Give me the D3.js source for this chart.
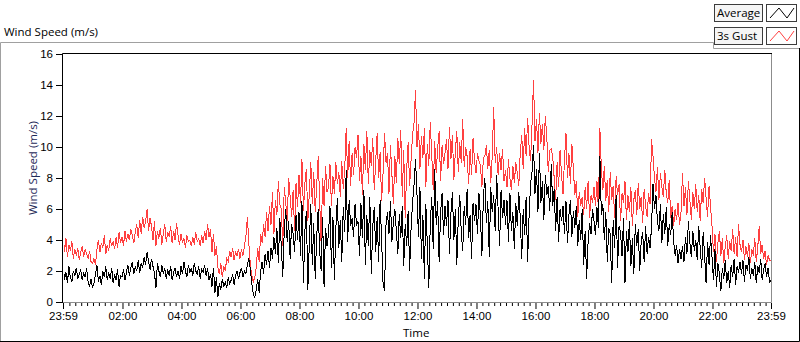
<!DOCTYPE html>
<html>
<head>
<meta charset="utf-8">
<script src="https://cdn.jsdelivr.net/npm/d3@7"></script>
<style>
  body { margin: 0; background: #fff; }
  svg { display: block; font-family: "Open Sans", sans-serif; }
</style>
</head>
<body>
<svg id="chart" width="800" height="342"></svg>
<script>
// 3-minute samples, 23:59 -> 23:59 next day (one row per hour)
const stepMinutes = 3;
const averageMs = [
  2.7,1.4,1.9,1.2,2.3,1.6,1.3,2.0,1.7,2.2,1.5,1.8,2.1,1.4,1.9,1.6,2.2,1.3,1.0,1.5,
  0.9,1.2,1.8,2.4,1.3,1.7,1.1,2.0,1.6,2.3,1.4,1.9,1.5,2.2,1.2,1.8,1.4,2.1,1.0,1.7,
  1.6,2.1,1.4,1.9,2.4,1.7,2.2,2.6,1.8,2.3,2.0,2.7,1.9,2.5,2.2,2.9,2.4,3.2,2.6,2.1,
  2.8,2.3,1.9,0.9,2.5,2.0,1.6,2.4,1.8,2.2,1.5,2.1,1.7,2.3,1.4,1.9,2.2,1.6,2.0,1.5,
  2.3,1.8,2.6,2.0,1.6,2.4,1.9,2.2,1.7,2.5,2.0,1.8,2.3,1.5,2.1,1.9,2.4,1.7,2.2,1.4,
  1.8,1.0,2.2,0.6,1.6,0.3,1.2,0.8,1.5,1.0,1.3,0.9,1.6,1.2,1.4,1.8,1.1,1.7,2.0,1.5,
  1.9,2.2,1.6,2.0,1.8,2.4,2.8,2.1,1.2,0.5,0.3,0.8,1.5,0.6,2.0,2.6,1.8,3.1,2.4,3.3,
  2.2,3.5,2.8,4.2,3.1,4.8,2.5,5.4,3.6,1.6,4.6,6.0,3.9,5.2,2.8,5.0,4.4,3.2,5.6,4.0,
  5.8,3.0,6.5,1.2,4.6,5.9,0.8,3.8,6.3,2.4,5.1,1.5,4.2,6.0,3.3,2.0,5.5,1.0,4.8,3.6,
  4.4,6.2,2.2,5.5,1.4,4.8,6.7,3.5,5.3,2.6,6.1,4.5,8.5,3.9,6.6,4.9,5.4,4.2,6.3,5.0,
  5.2,3.0,6.4,4.1,7.2,2.4,5.6,3.6,6.8,1.8,4.9,6.1,3.2,5.5,2.6,6.6,4.0,1.2,0.7,5.0,
  5.8,4.4,6.5,3.9,5.2,6.0,4.6,3.1,5.7,4.1,6.2,2.3,5.0,3.6,5.9,2.0,4.8,6.4,7.6,9.2,
  6.9,4.2,7.4,2.8,5.6,1.5,6.3,3.7,0.9,5.1,6.8,3.4,8.6,5.0,6.5,2.6,5.8,7.0,4.3,6.2,
  4.9,6.6,3.1,5.7,7.1,4.0,6.0,2.4,5.4,6.9,4.5,3.3,6.2,5.0,7.3,4.1,5.6,2.8,6.4,5.2,
  6.3,4.4,7.0,5.5,3.0,6.8,8.0,5.1,6.5,2.9,7.4,5.8,6.9,4.6,8.2,6.0,3.6,7.2,5.4,6.6,
  5.0,6.6,3.9,7.0,4.6,5.8,3.4,6.4,4.9,7.1,5.5,2.8,6.0,4.3,6.8,2.6,5.6,7.6,8.4,10.1,
  7.0,8.6,5.8,9.6,6.4,7.8,5.3,8.2,6.9,7.5,5.9,8.9,6.2,7.3,4.6,6.8,3.9,6.0,5.2,6.2,
  4.4,6.5,3.8,5.6,6.6,4.2,5.9,4.8,6.2,3.6,5.3,4.0,6.0,2.4,4.6,1.5,3.9,5.1,4.4,6.0,
  5.2,4.3,6.1,4.8,9.4,5.6,6.3,4.0,5.8,2.6,4.8,4.4,1.2,5.3,3.5,6.9,2.2,4.9,4.5,3.0,
  5.4,1.2,4.6,3.2,5.2,2.3,4.1,1.8,5.0,3.6,4.7,2.0,3.9,4.5,2.6,4.9,3.1,4.2,3.5,4.8,
  7.6,6.0,6.9,5.2,4.6,6.3,3.8,5.7,4.4,6.1,3.6,5.0,4.3,5.8,3.9,3.0,3.7,2.5,3.4,2.8,
  3.6,2.6,4.2,3.1,5.2,3.8,2.9,4.6,3.3,4.0,2.7,4.9,3.5,2.2,4.5,3.0,1.2,3.9,2.4,4.3,
  2.9,1.4,3.4,1.0,2.5,1.8,0.7,2.2,1.5,2.7,1.2,2.0,0.9,2.4,1.6,2.8,1.1,2.3,1.9,2.6,
  1.8,2.7,1.3,2.4,2.0,2.9,1.5,2.2,1.7,2.6,1.2,2.3,1.9,2.8,1.4,2.1,2.5,1.6,2.2,1.3,
  1.4
];
const gustMs = [
  4.8,3.2,4.1,2.9,3.7,3.3,3.9,2.8,3.4,3.0,3.5,2.7,3.2,3.6,2.9,3.4,3.1,2.8,3.3,2.6,
  2.5,2.8,2.4,3.4,4.0,3.2,3.8,3.5,4.3,3.1,3.7,3.3,4.1,3.6,3.9,3.4,4.2,3.5,4.5,3.8,
  4.2,3.6,4.6,3.9,4.4,4.0,4.7,4.3,3.8,4.5,5.0,4.1,5.3,4.4,5.5,4.8,5.2,6.0,4.6,5.4,
  4.9,4.0,5.2,3.6,4.6,4.1,4.8,3.7,4.4,5.0,3.9,4.5,4.2,4.9,3.8,4.6,4.0,5.1,4.3,3.7,
  4.4,3.8,4.1,3.5,4.3,3.9,4.0,3.6,4.2,3.7,4.5,3.9,4.1,3.6,4.3,3.8,4.6,4.0,5.0,4.2,
  4.7,3.2,4.4,3.0,3.6,2.2,1.8,2.5,1.6,2.3,2.0,2.8,2.6,3.3,2.9,3.5,2.7,3.2,3.0,3.4,
  2.8,3.4,3.0,3.6,4.2,5.5,3.8,2.4,1.7,1.3,1.6,2.2,3.5,2.6,4.4,3.8,5.0,4.2,5.8,4.6,
  6.2,5.0,7.1,4.4,6.6,5.6,7.8,6.3,6.0,3.6,7.4,6.4,5.2,8.0,6.8,5.5,7.2,4.6,7.7,6.1,
  8.2,6.4,9.2,5.9,7.7,8.6,5.2,7.0,9.0,6.3,8.4,5.8,7.5,9.4,6.6,3.7,8.0,6.2,8.8,7.1,
  7.4,8.9,6.2,8.1,7.0,9.0,7.6,8.4,6.8,9.1,7.3,8.6,11.2,8.0,10.4,7.5,9.6,8.2,10.0,9.3,
  10.8,7.8,9.4,6.9,10.2,8.5,11.0,7.6,9.8,8.8,10.6,7.2,9.1,10.9,8.0,9.7,6.5,8.3,10.9,9.0,
  9.6,7.0,10.1,8.2,6.3,9.4,7.7,10.6,8.9,11.1,6.8,9.8,5.4,8.6,10.3,7.5,9.2,10.8,11.6,13.7,
  10.0,11.5,8.6,10.7,9.3,11.2,7.4,10.2,8.8,11.6,9.5,7.2,10.4,8.3,9.9,11.0,7.8,10.1,8.9,9.6,
  10.5,8.6,11.3,9.2,10.8,7.9,9.7,11.0,8.4,10.3,9.0,11.8,8.7,10.0,9.4,7.6,9.9,8.2,10.6,9.1,
  8.3,9.6,9.1,8.8,7.4,9.3,9.4,10.1,8.6,9.8,7.7,9.4,12.6,9.0,10.0,8.2,9.6,8.5,9.9,7.8,
  8.5,7.4,9.2,8.0,7.2,8.8,7.7,9.0,8.3,7.5,9.6,10.8,8.6,11.2,9.4,11.9,10.0,9.1,11.5,14.3,
  10.4,11.8,9.6,12.2,10.2,11.5,9.8,12.0,10.6,8.4,9.8,9.9,9.4,8.0,6.6,9.0,7.4,9.8,8.2,7.0,
  9.2,10.9,8.0,9.6,7.6,10.2,8.6,6.9,7.8,5.5,7.1,6.2,6.8,5.6,7.4,6.0,7.8,5.4,6.9,6.4,
  7.4,6.2,7.8,5.9,11.2,8.6,7.2,8.8,6.5,7.9,5.8,8.4,6.6,7.5,5.4,8.1,6.9,7.6,5.2,7.0,
  6.4,7.8,5.3,6.9,5.8,7.4,4.9,6.6,7.2,5.6,7.7,6.0,6.8,5.1,7.3,6.2,5.5,7.0,6.3,10.5,
  9.4,8.0,7.1,8.7,6.6,8.3,7.4,6.8,8.5,7.0,6.4,7.9,5.4,6.2,4.9,6.0,5.3,6.4,5.0,5.8,
  8.3,6.2,7.4,5.6,7.8,6.6,5.3,7.1,6.0,7.6,5.8,6.9,5.2,7.3,6.4,8.0,6.7,5.5,7.5,6.2,
  4.9,3.2,4.4,2.6,3.8,4.6,3.0,4.1,2.5,3.6,4.3,2.8,3.9,3.3,4.7,3.1,4.2,2.9,5.0,3.7,
  3.2,4.0,2.7,3.6,2.9,3.8,2.5,3.4,3.0,4.1,2.6,3.5,4.9,3.1,3.7,2.8,3.3,2.4,3.0,2.7,
  2.7
];
const seriesNames = ['Average', '3s Gust'];
const seriesColors = ['#000000', '#ff4040'];
const yTicks = [0, 2, 4, 6, 8, 10, 12, 14, 16];
const xTickHours = [2, 4, 6, 8, 10, 12, 14, 16, 18, 20, 22];
const xTickLabels = ['23:59', '02:00', '04:00', '06:00', '08:00', '10:00', '12:00',
  '14:00', '16:00', '18:00', '20:00', '22:00', '23:59'];

const svg = d3.select('#chart');
const FONT = 11.5;

const plot = { left: 63, right: 771, top: 54, bottom: 302 };
const t0 = new Date(2020, 0, 1, 23, 59);
const t1 = d3.timeDay.offset(t0, 1);

const x = d3.scaleTime().domain([t0, t1]).range([plot.left, plot.right]);
const y = d3.scaleLinear().domain([0, 16]).range([plot.bottom, plot.top]);

const times = averageMs.map((_, i) => d3.timeMinute.offset(t0, i * stepMinutes));

// outer panel
svg.append('path')
  .attr('d', 'M0.5,342 V42.5 H713.5 V48.5 H800')
  .attr('fill', 'none').attr('stroke', '#a0a0a0');
svg.append('path')
  .attr('d', 'M799.5,48 V341.5 H0')
  .attr('fill', 'none').attr('stroke', '#000');

svg.append('text')
  .attr('x', 4).attr('y', 36)
  .attr('font-size', FONT).attr('fill', '#000')
  .text('Wind Speed (m/s)');

// legend
const legend = svg.append('g').attr('class', 'legend');
seriesNames.forEach((name, i) => {
  const g = legend.append('g').attr('transform', `translate(714,${4 + i * 23})`);
  g.append('rect')
    .attr('x', 0.5).attr('y', 0.5).attr('width', 48).attr('height', 17)
    .attr('fill', '#f5f5f5').attr('stroke', '#3c3c3c');
  g.append('text')
    .attr('x', 3).attr('y', 13)
    .attr('font-size', FONT).attr('fill', '#000')
    .text(name);
  g.append('rect')
    .attr('x', 52.5).attr('y', 0.5).attr('width', 30).attr('height', 17)
    .attr('fill', '#fff').attr('stroke', '#3c3c3c');
  const icono = d3.line()([[56, 14], [65, 4], [73, 14], [80, 4]]);
  g.append('path')
    .attr('d', icono)
    .attr('fill', 'none').attr('stroke', seriesColors[i]).attr('stroke-width', 1);
});

// plot frame
svg.append('rect')
  .attr('x', plot.left).attr('y', plot.top)
  .attr('width', plot.right - plot.left).attr('height', plot.bottom - plot.top)
  .attr('fill', '#fff');

svg.append('defs').append('clipPath').attr('id', 'clip')
  .append('rect')
  .attr('x', plot.left + 1).attr('y', plot.top + 1)
  .attr('width', plot.right - plot.left - 1).attr('height', plot.bottom - plot.top - 1);

const linea = d3.line()
  .x((d, i) => x(times[i]))
  .y(d => y(d));

const capa = svg.append('g').attr('clip-path', 'url(#clip)');
[gustMs, averageMs].forEach((serie, k) => {
  capa.append('path')
    .datum(serie)
    .attr('d', linea)
    .attr('fill', 'none')
    .attr('stroke', k === 0 ? seriesColors[1] : seriesColors[0])
    .attr('stroke-width', 1)
    .attr('shape-rendering', 'crispEdges');
});

svg.append('path')
  .attr('d', `M${plot.right + 0.5},${plot.top} V${plot.bottom + 0.5} H${plot.left}`)
  .attr('fill', 'none').attr('stroke', '#8c8c8c');
svg.append('path')
  .attr('d', `M${plot.left - 0.5},${plot.bottom + 1} V${plot.top - 0.5} H${plot.right + 1}`)
  .attr('fill', 'none').attr('stroke', '#000');

// y axis
const yAxis = svg.append('g')
  .attr('transform', `translate(${plot.left - 1},0)`)
  .call(d3.axisLeft(y).tickValues(yTicks).tickSize(6).tickPadding(3));
yAxis.select('.domain').remove();
yAxis.selectAll('text').attr('font-size', FONT).attr('font-family', null).attr('fill', '#000');

svg.append('text')
  .attr('transform', `translate(37,168) rotate(-90)`)
  .attr('text-anchor', 'middle')
  .attr('font-size', FONT).attr('fill', '#1e2a58')
  .text('Wind Speed (m/s)');

// x axis
const majors = [t0, ...xTickHours.map(h => new Date(2020, 0, 2, h, 0)), t1];
const minors = d3.timeMinute.every(12).range(t0, t1)
  .filter(d => Math.abs(x(d) - x(t0)) > 3 && majors.every(m => Math.abs(x(m) - x(d)) > 2));

const xMinor = svg.append('g')
  .attr('transform', `translate(0,${plot.bottom + 1})`)
  .call(d3.axisBottom(x).tickValues(minors).tickSize(3).tickFormat(''));
xMinor.select('.domain').remove();

const xAxis = svg.append('g')
  .attr('transform', `translate(0,${plot.bottom + 1})`)
  .call(d3.axisBottom(x).tickValues(majors).tickSize(6).tickPadding(3)
    .tickFormat((d, i) => xTickLabels[i]));
xAxis.select('.domain').remove();
xAxis.selectAll('text').attr('font-size', FONT).attr('font-family', null).attr('fill', '#000');

svg.append('text')
  .attr('x', 403).attr('y', 337)
  .attr('font-size', FONT).attr('fill', '#000')
  .text('Time');
</script>
</body>
</html>
